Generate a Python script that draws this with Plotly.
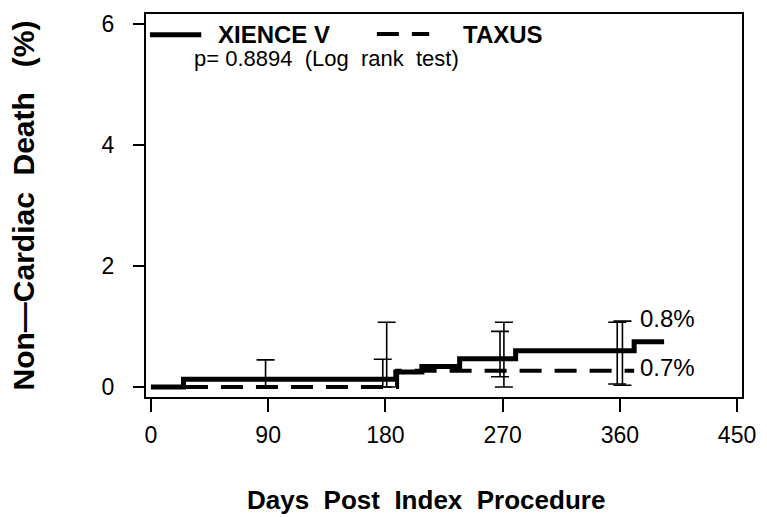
import plotly.graph_objects as go

# Kaplan-Meier style step curves (days, cumulative %)
xience_days = [0, 25, 188, 208, 237, 280, 371, 394]
xience_pct = [0, 0.13, 0.25, 0.34, 0.47, 0.60, 0.75, 0.75]
taxus_days = [0, 189, 371]
taxus_pct = [0, 0.27, 0.27]

# Confidence-interval bars
xience_ci_days = [88, 178, 268, 358]
xience_ci_est = [0.13, 0.13, 0.47, 0.60]
xience_ci_upper = [0.45, 0.46, 0.92, 1.07]
xience_ci_lower = [0.0, 0.0, 0.17, 0.05]
taxus_ci_days = [181, 271, 362]
taxus_ci_est = [0.0, 0.27, 0.27]
taxus_ci_upper = [1.07, 1.07, 1.09]
taxus_ci_lower = [0.0, 0.0, 0.03]

x_ticks = [0, 90, 180, 270, 360, 450]
y_ticks = [0, 2, 4, 6]

FONT = "Liberation Sans, Arial, sans-serif"

fig = go.Figure()

def ci_trace(days, est, up, lo):
    return go.Scatter(
        x=days, y=est, mode="markers",
        marker=dict(size=1, color="rgba(0,0,0,0)"),
        error_y=dict(type="data", symmetric=False,
                     array=[u - e for u, e in zip(up, est)],
                     arrayminus=[e - l for e, l in zip(est, lo)],
                     color="black", thickness=1.6, width=9),
        showlegend=False, hoverinfo="skip")

fig.add_trace(ci_trace(xience_ci_days, xience_ci_est, xience_ci_upper, xience_ci_lower))
fig.add_trace(ci_trace(taxus_ci_days, taxus_ci_est, taxus_ci_upper, taxus_ci_lower))

fig.add_trace(go.Scatter(x=taxus_days, y=taxus_pct, mode="lines", line_shape="hv",
                         line=dict(color="black", width=4, dash="22px,13px"),
                         name="TAXUS", showlegend=False))
fig.add_trace(go.Scatter(x=xience_days, y=xience_pct, mode="lines", line_shape="hv",
                         line=dict(color="black", width=5),
                         name="XIENCE V", showlegend=False))

# Manual legend
fig.add_shape(type="line", xref="paper", yref="paper", x0=0.0066, x1=0.0927,
              y0=0.9456, y1=0.9456, line=dict(color="black", width=5))
fig.add_shape(type="line", xref="paper", yref="paper", x0=0.3874, x1=0.4752,
              y0=0.948, y1=0.948, line=dict(color="black", width=4, dash="22px,13px"))
fig.add_annotation(text="<b>XIENCE\u00a0V</b>", xref="paper", yref="paper", x=0.1175, y=0.9456,
                   xanchor="left", yanchor="middle", showarrow=False,
                   font=dict(family=FONT, size=24, color="black"))
fig.add_annotation(text="<b>TAXUS</b>", xref="paper", yref="paper", x=0.528, y=0.9456,
                   xanchor="left", yanchor="middle", showarrow=False,
                   font=dict(family=FONT, size=24, color="black"))
fig.add_annotation(text="p=\u00a00.8894\u00a0\u00a0(Log\u00a0\u00a0rank\u00a0\u00a0test)", xref="paper", yref="paper",
                   x=0.0778, y=0.8834, xanchor="left", yanchor="middle", showarrow=False,
                   font=dict(family=FONT, size=22, color="black"))

# End labels
fig.add_annotation(text="0.8%", x=374, y=1.13, xanchor="left", yanchor="middle",
                   showarrow=False, font=dict(family=FONT, size=24, color="black"))
fig.add_annotation(text="0.7%", x=374, y=0.33, xanchor="left", yanchor="middle",
                   showarrow=False, font=dict(family=FONT, size=24, color="black"))

# X axis title as annotation
fig.add_annotation(text="<b>Days\u00a0\u00a0Post\u00a0\u00a0Index\u00a0\u00a0Procedure</b>",
                   xref="paper", yref="paper", x=(430 - 146) / 604, y=-(501 - 397) / 386,
                   xanchor="center", yanchor="middle", showarrow=False,
                   font=dict(family=FONT, size=26, color="black"))

fig.update_layout(
    width=767, height=517,
    margin=dict(l=146, r=17, t=11, b=120),
    paper_bgcolor="white", plot_bgcolor="white",
    showlegend=False,
    font=dict(family=FONT, color="black"),
)
fig.update_xaxes(range=[-3.8, 453.8], tickvals=x_ticks, ticktext=[str(v) for v in x_ticks],
                 showgrid=False, zeroline=False, showline=True, mirror=True,
                 linecolor="black", linewidth=2, ticks="outside", ticklen=13,
                 tickwidth=1.6, tickcolor="black", ticklabelstandoff=3,
                 tickfont=dict(family=FONT, size=23, color="black"))
fig.update_yaxes(range=[-0.164, 6.164], tickvals=y_ticks, ticktext=[str(v) for v in y_ticks],
                 showgrid=False, zeroline=False, showline=True, mirror=True,
                 linecolor="black", linewidth=2, ticks="outside", ticklen=11,
                 tickwidth=1.6, tickcolor="black", ticklabelstandoff=14,
                 tickfont=dict(family=FONT, size=23, color="black"),
                 title=dict(text="<b>Non\u2014Cardiac\u00a0\u00a0Death\u00a0\u00a0\u00a0(%)</b>",
                            font=dict(family=FONT, size=30, color="black"), standoff=58))

fig.write_html("out.html")
